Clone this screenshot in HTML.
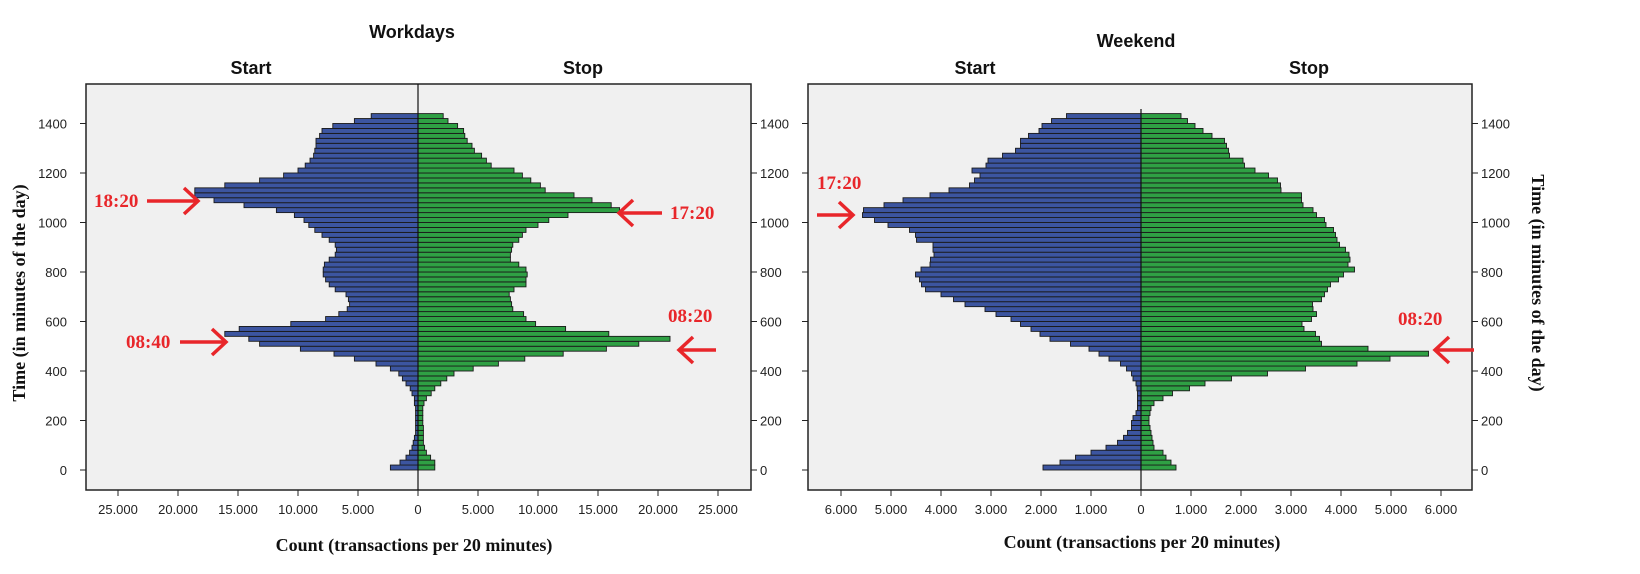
<!DOCTYPE html>
<html><head><meta charset="utf-8">
<style>
html,body{margin:0;padding:0;background:#fff;}
svg{display:block;}
.t{font-family:"Liberation Sans",Arial,sans-serif;font-size:13px;fill:#222;}
.h{font-family:"Liberation Sans",Arial,sans-serif;font-weight:bold;font-size:18px;fill:#111;}
.s{font-family:"Liberation Serif",serif;font-weight:bold;font-size:18px;fill:#111;}
.r{font-family:"Liberation Serif",serif;font-weight:bold;font-size:19px;fill:#e8262a;}
</style></head>
<body>
<svg id="c" width="1640" height="574" xmlns="http://www.w3.org/2000/svg">
<rect x="86" y="84" width="665" height="406" fill="#f0f0f0" stroke="#222" stroke-width="1.5"/>
<rect x="808" y="84" width="664" height="406" fill="#f0f0f0" stroke="#222" stroke-width="1.5"/>
<g id="bars"></g>
<line x1="418" y1="84" x2="418" y2="490" stroke="#111" stroke-width="1.2"/>
<line x1="1141" y1="109" x2="1141" y2="490" stroke="#111" stroke-width="1.2"/>
<g id="ax"></g>
<text class="h" x="412" y="38" text-anchor="middle">Workdays</text>
<text class="h" x="1136" y="47" text-anchor="middle">Weekend</text>
<text class="h" x="251" y="74" text-anchor="middle" font-size="17">Start</text>
<text class="h" x="583" y="74" text-anchor="middle" font-size="17">Stop</text>
<text class="h" x="975" y="74" text-anchor="middle" font-size="17">Start</text>
<text class="h" x="1309" y="74" text-anchor="middle" font-size="17">Stop</text>
<text class="s" x="414" y="551" text-anchor="middle">Count (transactions per 20 minutes)</text>
<text class="s" x="1142" y="548" text-anchor="middle">Count (transactions per 20 minutes)</text>
<text class="s" transform="translate(25,293) rotate(-90)" text-anchor="middle">Time (in minutes of the day)</text>
<text class="s" transform="translate(1532,283) rotate(90)" text-anchor="middle">Time (in minutes of the day)</text>
<g fill="none" stroke="#e8262a" stroke-width="3.5">
<path d="M147 201H197M184 188L198 201L184 214"/>
<path d="M620 213H662M633 200L619 213L633 226"/>
<path d="M180 342H225M212 329L226 342L212 355"/>
<path d="M680 350H716M693 337L679 350L693 363"/>
<path d="M817 215H852M839 202L853 215L839 228"/>
<path d="M1436 350H1474M1449 337L1435 350L1449 363"/>
</g>
<text class="r" x="94" y="207">18:20</text>
<text class="r" x="670" y="219">17:20</text>
<text class="r" x="126" y="348">08:40</text>
<text class="r" x="668" y="322">08:20</text>
<text class="r" x="817" y="189">17:20</text>
<text class="r" x="1398" y="325">08:20</text>
</svg>
<script>
var NS="http://www.w3.org/2000/svg";
function el(p,n,a,t){var e=document.createElementNS(NS,n);for(var k in a)e.setAttribute(k,a[k]);if(t!=null)e.textContent=t;p.appendChild(e);return e;}
var wS=[2.3,1.5,1.0,0.7,0.5,0.4,0.3,0.2,0.2,0.2,0.2,0.2,0.2,0.3,0.3,0.5,0.65,1.0,1.3,1.6,2.3,3.5,5.3,7.0,9.8,13.2,14.1,16.1,14.9,10.6,7.7,6.6,5.9,5.7,5.8,6.0,6.9,7.4,7.7,7.9,7.9,7.8,7.4,6.9,6.8,6.9,7.4,8.0,8.6,9.1,9.5,10.3,11.8,14.5,17.0,18.6,18.6,16.1,13.2,11.2,10.0,9.4,9.0,8.7,8.6,8.5,8.5,8.2,8.0,7.1,5.3,3.9];
var wP=[1.4,1.4,1.05,0.7,0.55,0.45,0.45,0.45,0.45,0.4,0.4,0.4,0.4,0.5,0.7,1.1,1.4,1.9,2.4,3.0,4.6,6.7,8.9,12.1,15.7,18.4,21.0,15.9,12.3,9.8,9.0,8.8,7.9,7.8,7.7,7.6,8.0,9.0,9.0,9.1,9.0,8.4,7.7,7.7,7.8,7.9,8.4,8.7,9.0,10.0,10.9,12.5,16.8,16.1,14.5,13.0,10.6,10.2,9.4,8.7,8.0,6.1,5.7,5.3,4.7,4.5,4.1,3.9,3.8,3.3,2.5,2.1];
var eS=[1.96,1.62,1.31,1.0,0.7,0.47,0.35,0.27,0.19,0.19,0.16,0.1,0.07,0.07,0.07,0.07,0.08,0.1,0.16,0.19,0.29,0.41,0.64,0.84,1.04,1.41,1.82,2.02,2.2,2.41,2.6,2.9,3.12,3.52,3.75,4.0,4.31,4.39,4.43,4.51,4.4,4.22,4.21,4.14,4.16,4.16,4.49,4.51,4.63,5.06,5.33,5.57,5.55,5.14,4.76,4.22,3.84,3.43,3.33,3.22,3.38,3.10,3.06,2.77,2.51,2.41,2.41,2.25,2.04,1.98,1.79,1.49];
var eP=[0.7,0.6,0.5,0.44,0.26,0.24,0.22,0.2,0.18,0.16,0.16,0.18,0.2,0.26,0.44,0.63,0.97,1.28,1.81,2.53,3.29,4.32,4.98,5.75,4.54,3.61,3.57,3.49,3.26,3.22,3.41,3.51,3.44,3.43,3.61,3.67,3.73,3.79,3.95,4.05,4.27,4.14,4.18,4.16,4.09,3.97,3.92,3.89,3.85,3.70,3.67,3.51,3.44,3.24,3.21,3.21,2.8,2.79,2.73,2.55,2.28,2.07,2.04,1.77,1.75,1.71,1.67,1.42,1.24,1.08,0.93,0.8];
var g=document.getElementById("bars");
var bh=4.95,y0=470;
function draw(arr,cx,sc,dir,col){for(var k=0;k<72;k++){var w=arr[k]*sc,y=y0-(k+1)*bh;el(g,"rect",{x:dir<0?cx-w:cx,y:y.toFixed(2),width:w.toFixed(2),height:bh.toFixed(2),fill:col,stroke:"#1a1a1a","stroke-width":"0.9"});}}
draw(wS,418,12,-1,"#3c55a0");draw(wP,418,12,1,"#2fa044");
draw(eS,1141,50,-1,"#3c55a0");draw(eP,1141,50,1,"#2fa044");
var ax=document.getElementById("ax");
for(var m=0;m<=1400;m+=200){var y=y0-m/20*bh;
el(ax,"line",{x1:80,y1:y,x2:86,y2:y,stroke:"#222"});
el(ax,"text",{"class":"t",x:67,y:y+5,"text-anchor":"end"},m);
el(ax,"line",{x1:751,y1:y,x2:757,y2:y,stroke:"#222"});
el(ax,"line",{x1:802,y1:y,x2:808,y2:y,stroke:"#222"});
el(ax,"text",{"class":"t",x:760,y:y+5},m);
el(ax,"line",{x1:1472,y1:y,x2:1478,y2:y,stroke:"#222"});
el(ax,"text",{"class":"t",x:1481,y:y+5},m);}
function fmt(v){return v>=1000?(Math.floor(v/1000)+"."+String(v%1000).padStart(3,"0")):String(v);}
for(var v=-25000;v<=25000;v+=5000){var x=418+v/1000*12;el(ax,"line",{x1:x,y1:490,x2:x,y2:496,stroke:"#222"});el(ax,"text",{"class":"t",x:x,y:514,"text-anchor":"middle"},fmt(Math.abs(v)));}
for(var v=-6000;v<=6000;v+=1000){var x=1141+v/1000*50;el(ax,"line",{x1:x,y1:490,x2:x,y2:496,stroke:"#222"});el(ax,"text",{"class":"t",x:x,y:514,"text-anchor":"middle"},fmt(Math.abs(v)));}
</script>
</body></html>
